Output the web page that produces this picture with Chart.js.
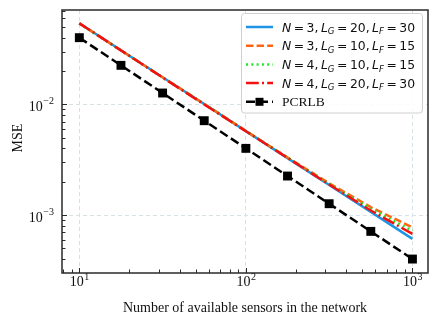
<!DOCTYPE html>
<html>
<head>
<meta charset="utf-8">
<script src="https://cdn.jsdelivr.net/npm/chart.js@4"></script>
<style>
  body { margin: 0; background: #fff; }
  canvas { display: block; }
</style>
</head>
<body>
<canvas id="myChart" width="440" height="326"></canvas>
<script>
// number of sensors (x axis)
const sensores = [10, 17.78, 31.62, 56.23, 100, 177.8, 316.2, 562.3, 1000];

// MSE for each configuration
const mseN3G20 = [0.0542, 0.0309, 0.0176, 0.0101, 0.00574, 0.00327, 0.00187, 0.00107, 0.00061];
const mseN3G10 = [0.0540, 0.0308, 0.0176, 0.0101, 0.00576, 0.00332, 0.00194, 0.00118, 0.000775];
const mseN4G10 = [0.0538, 0.0307, 0.0175, 0.0101, 0.00575, 0.00331, 0.00191, 0.00114, 0.00072];
const mseN4G20 = [0.0540, 0.0308, 0.0175, 0.0100, 0.00573, 0.00329, 0.00189, 0.00110, 0.000676];
const pcrlb    = [0.0401, 0.02255, 0.01268, 0.00713, 0.00401, 0.002255, 0.001268, 0.000713, 0.000401];

const legendas = ['N = 3, L_G = 20, L_F = 30', 'N = 3, L_G = 10, L_F = 15',
                  'N = 4, L_G = 10, L_F = 15', 'N = 4, L_G = 20, L_F = 30', 'PCRLB'];

// axis ticks and labels
const xMajor = [10, 100, 1000];
const xMajorExp = ['1', '2', '3'];
const yMajor = [0.001, 0.01];
const yMajorExp = ['\u22123', '\u22122'];
const xTitulo = 'Number of available sensors in the network';
const yTitulo = 'MSE';

const xMin = 7.87, xMax = 1240;
const yMin = 0.000315, yMax = 0.0713;

function logTicks(min, max) {
  const out = [];
  for (let e = Math.floor(Math.log10(min)); e <= Math.ceil(Math.log10(max)); e++) {
    for (let m = 1; m <= 9; m++) {
      const v = m * Math.pow(10, e);
      if (v >= min && v <= max) out.push({ value: v, major: m === 1 });
    }
  }
  return out;
}

const serif = '"Liberation Serif", "DejaVu Serif", serif';
const mathFont = '"DejaVu Sans", sans-serif';

// draws mathtext-like strings: letters italic, _X subscript
function drawMath(ctx, str, x, y, size) {
  let cx = x;
  for (let i = 0; i < str.length; i++) {
    let c = str[i];
    let sub = false;
    if (c === '_') { sub = true; i++; c = str[i]; }
    if (c === ' ') { cx += size * 0.2; continue; }
    const italic = /[A-Za-z]/.test(c);
    const s = sub ? size * 0.7 : size;
    ctx.font = (italic ? 'oblique ' : '') + s + 'px ' + mathFont;
    ctx.fillText(c, cx, sub ? y + size * 0.22 : y);
    cx += ctx.measureText(c).width;
  }
  return cx - x;
}

const estilo = {
  id: 'estilo',
  afterDatasetsDraw(chart) {
    const ctx = chart.ctx;
    const a = chart.chartArea;
    const xs = chart.scales.x, ys = chart.scales.y;
    ctx.save();
    // frame
    ctx.strokeStyle = '#2a2a2a';
    ctx.lineWidth = 1.5;
    ctx.strokeRect(a.left, a.top, a.right - a.left, a.bottom - a.top);
    // inward ticks
    ctx.lineWidth = 1;
    xs.ticks.forEach(t => {
      const px = Math.round(xs.getPixelForValue(t.value)) + 0.5;
      const len = t.major ? 5 : 3.5;
      ctx.beginPath(); ctx.moveTo(px, a.bottom); ctx.lineTo(px, a.bottom - len); ctx.stroke();
    });
    ys.ticks.forEach(t => {
      const py = Math.round(ys.getPixelForValue(t.value)) + 0.5;
      const len = t.major ? 5 : 3.5;
      ctx.beginPath(); ctx.moveTo(a.left, py); ctx.lineTo(a.left + len, py); ctx.stroke();
    });
    // tick labels
    ctx.fillStyle = '#111';
    ctx.textBaseline = 'alphabetic';
    ctx.textAlign = 'left';
    xMajor.forEach((v, i) => {
      const px = xs.getPixelForValue(v);
      ctx.font = '14px ' + serif;
      const w1 = ctx.measureText('10').width;
      ctx.font = '10px ' + serif;
      const w2 = ctx.measureText(xMajorExp[i]).width;
      const x0 = px - (w1 + w2) / 2;
      ctx.font = '14px ' + serif;
      ctx.fillText('10', x0, 286);
      ctx.font = '10px ' + serif;
      ctx.fillText(xMajorExp[i], x0 + w1 + 0.5, 280);
    });
    yMajor.forEach((v, i) => {
      const py = ys.getPixelForValue(v);
      ctx.font = '10px ' + serif;
      const w2 = ctx.measureText(yMajorExp[i]).width;
      ctx.font = '14px ' + serif;
      const w1 = ctx.measureText('10').width;
      const x0 = 54 - w2 - w1 - 0.5;
      ctx.fillText('10', x0, py + 6.5);
      ctx.font = '10px ' + serif;
      ctx.fillText(yMajorExp[i], x0 + w1 + 0.5, py);
    });
    // axis titles
    ctx.font = '14px ' + serif;
    ctx.textAlign = 'center';
    ctx.fillText(xTitulo, (a.left + a.right) / 2, 312);
    ctx.save();
    ctx.translate(22, 138);
    ctx.rotate(-Math.PI / 2);
    ctx.fillText(yTitulo, 0, 0);
    ctx.restore();

    // legend
    const lx = 241.5, ly = 13.5, lw = 181, lh = 99.5;
    ctx.fillStyle = 'rgba(255,255,255,0.85)';
    ctx.strokeStyle = '#d0d0d0';
    ctx.lineWidth = 1;
    ctx.beginPath();
    ctx.roundRect(lx, ly, lw, lh, 3);
    ctx.fill(); ctx.stroke();
    chart.data.datasets.forEach((ds, i) => {
      const cy = 27 + i * 18.7;
      ctx.save();
      ctx.strokeStyle = ds.borderColor;
      ctx.lineWidth = ds.borderWidth;
      ctx.setLineDash(ds.borderDash || []);
      ctx.beginPath(); ctx.moveTo(246, cy); ctx.lineTo(273, cy); ctx.stroke();
      ctx.restore();
      if (ds.pointRadius > 0) {
        ctx.fillStyle = ds.borderColor;
        ctx.fillRect(259.5 - 4, cy - 4, 8, 8);
      }
      ctx.fillStyle = '#111';
      ctx.textAlign = 'left';
      if (ds.label === 'PCRLB') {
        ctx.font = '13.5px ' + serif;
        ctx.fillText(ds.label, 282, cy + 4.5);
      } else {
        drawMath(ctx, ds.label, 282, cy + 4.5, 12.4);
      }
    });
    ctx.restore();
  }
};

const ctx = document.getElementById('myChart');

const cores = ['#1f94e4', '#ff6414', '#1fe81f', '#f41010', '#000000'];
const tracos = [[], [7.4, 3.2], [2, 3.3], [12.8, 3.2, 2, 3.2], [9, 4]];
const series = [mseN3G20, mseN3G10, mseN4G10, mseN4G20, pcrlb];

new Chart(ctx, {
  type: 'line',
  data: {
    datasets: series.map((s, i) => ({
      label: legendas[i],
      data: sensores.map((x, j) => ({ x: x, y: s[j] })),
      borderColor: cores[i],
      backgroundColor: cores[i],
      borderWidth: 2.5,
      borderDash: tracos[i],
      pointRadius: i === 4 ? 6.3 : 0,
      pointStyle: 'rect',
      pointBorderWidth: 0,
      tension: 0,
      order: 4 - i
    }))
  },
  options: {
    responsive: false,
    animation: false,
    devicePixelRatio: 1,
    layout: { padding: { left: 62, right: 12, top: 10, bottom: 53 } },
    plugins: { legend: { display: false }, tooltip: { enabled: false } },
    scales: {
      x: {
        type: 'logarithmic',
        min: xMin, max: xMax,
        afterBuildTicks: s => { s.ticks = logTicks(xMin, xMax); },
        ticks: { display: false, autoSkip: false },
        border: { display: false, dash: [4, 3] },
        grid: {
          drawTicks: false,
          color: c => (c.tick && c.tick.major) ? '#d8e2e6' : 'rgba(0,0,0,0)',
          lineWidth: 1
        }
      },
      y: {
        type: 'logarithmic',
        min: yMin, max: yMax,
        afterBuildTicks: s => { s.ticks = logTicks(yMin, yMax); },
        ticks: { display: false, autoSkip: false },
        border: { display: false, dash: [4, 3] },
        grid: {
          drawTicks: false,
          color: c => (c.tick && c.tick.major) ? '#d8e2e6' : 'rgba(0,0,0,0)',
          lineWidth: 1
        }
      }
    }
  },
  plugins: [estilo]
});
</script>
</body>
</html>
